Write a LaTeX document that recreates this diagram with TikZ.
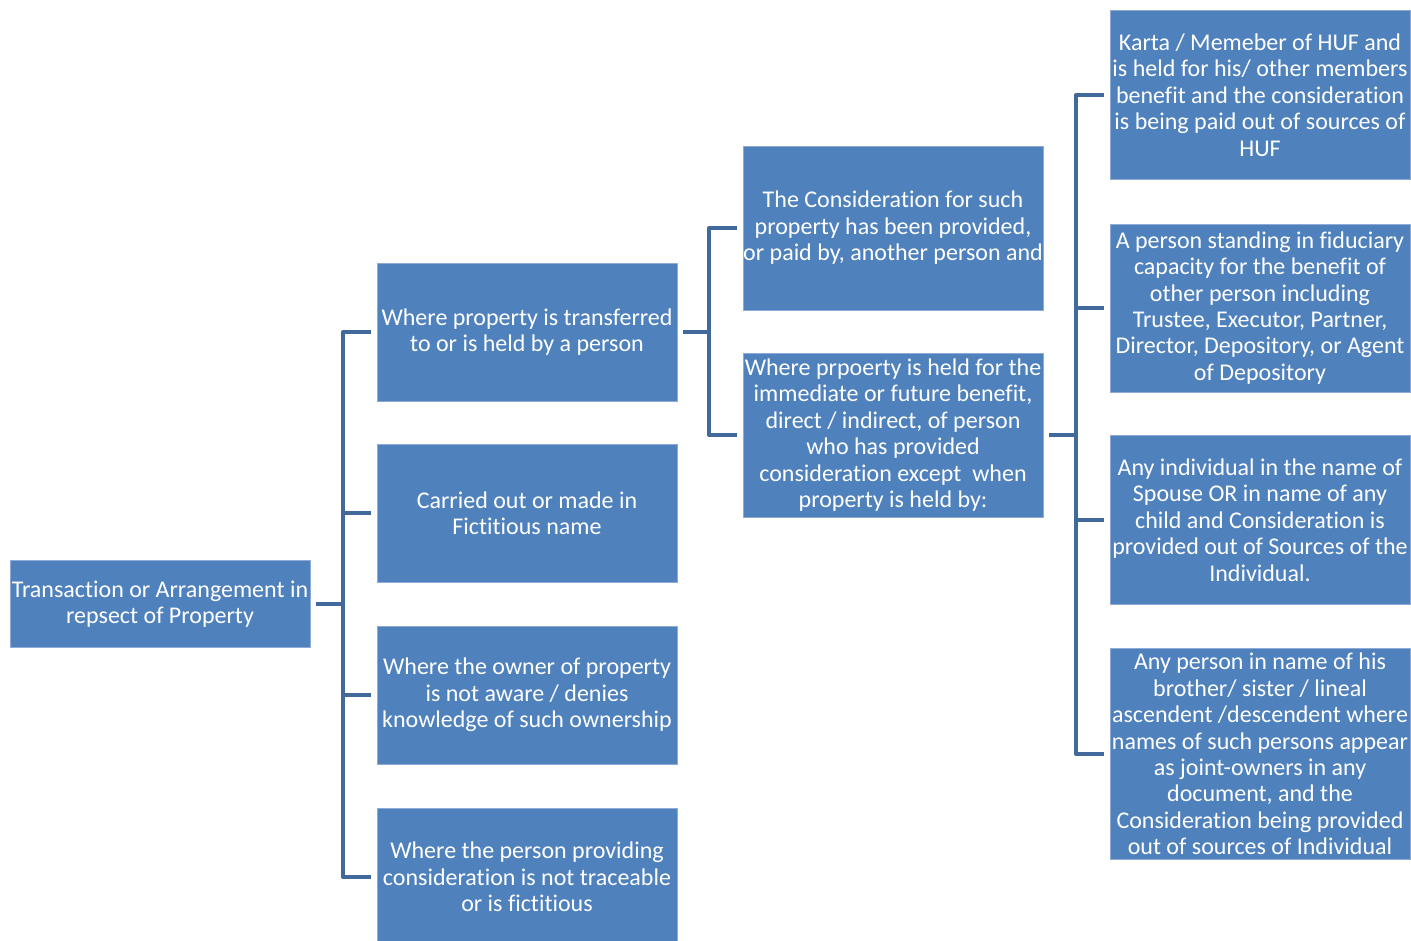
\documentclass[tikz,border=0pt]{standalone}
\usepackage{fontspec}
\setmainfont{Carlito}[Ligatures=NoCommon]
\definecolor{boxblue}{HTML}{4F81BD}
\definecolor{boxedge}{HTML}{8EAAD6}
\definecolor{linkblue}{HTML}{41699C}
\tikzset{
  item/.style={rectangle, fill=boxblue, draw=boxedge, line width=0.8pt, text=white,
    align=center, minimum width=300pt, inner sep=0pt,
    font=\fontsize{24}{26.4}\selectfont},
  elbow/.style={draw=linkblue, line width=4pt, line join=round}
}
\begin{document}
\begin{tikzpicture}[x=1pt,y=-1pt]
\useasboundingbox (0,0) rectangle (1411,941);
\node[item, minimum height=87pt] at (160,604) (1) {Transaction or Arrangement in\\repsect of Property};

\node[item, minimum height=138pt] at (527,332) (11) {Where property is transferred\\to or is held by a person};
\node[item, minimum height=138pt] at (527,513) (12) {Carried out or made in\\Fictitious name};
\node[item, minimum height=138pt] at (527,695) (13) {Where the owner of property\\is not aware / denies\\knowledge of such ownership};
\node[item, minimum height=138pt] at (527,877) (14) {Where the person providing\\consideration is not traceable\\or is fictitious};
\coordinate (1R) at (343,604);
\foreach \n in {11,12,13,14}
  \draw[elbow] ([xshift=6pt]1.east) -| (1R) |- ([xshift=-6pt]\n.west);

\node[item, minimum height=164pt] at (893,228) (111) {The Consideration for such\\property has been provided,\\or paid by, another person and};
\node[item, minimum height=164pt] at (893,435) (112) {Where prpoerty is held for the\\immediate or future benefit,\\direct / indirect, of person\\who has provided\\consideration except~ when\\property is held by:};
\coordinate (11R) at (709,332);
\foreach \n in {111,112}
  \draw[elbow] ([xshift=6pt]11.east) -| (11R) |- ([xshift=-6pt]\n.west);

\node[item, minimum height=169pt] at (1260,95) (1121) {Karta / Memeber of HUF and\\is held for his/ other members\\benefit and the consideration\\is being paid out of sources of\\HUF};
\node[item, minimum height=168pt] at (1260,308) (1122) {A person standing in fiduciary\\capacity for the benefit of\\other person including\\Trustee, Executor, Partner,\\Director, Depository, or Agent\\of Depository};
\node[item, minimum height=169pt] at (1260,520) (1123) {Any individual in the name of\\Spouse OR in name of any\\child and Consideration is\\provided out of Sources of the\\Individual.};
\node[item, minimum height=211pt] at (1260,754) (1124) {Any person in name of his\\brother/ sister / lineal\\ascendent /descendent where\\names of such persons appear\\as joint-owners in any\\document, and the\\Consideration being provided\\out of sources of Individual};
\coordinate (112R) at (1076,435);
\foreach \n in {1121,1122,1123,1124}
  \draw[elbow] ([xshift=6pt]112.east) -| (112R) |- ([xshift=-6pt]\n.west);
\end{tikzpicture}
\end{document}
